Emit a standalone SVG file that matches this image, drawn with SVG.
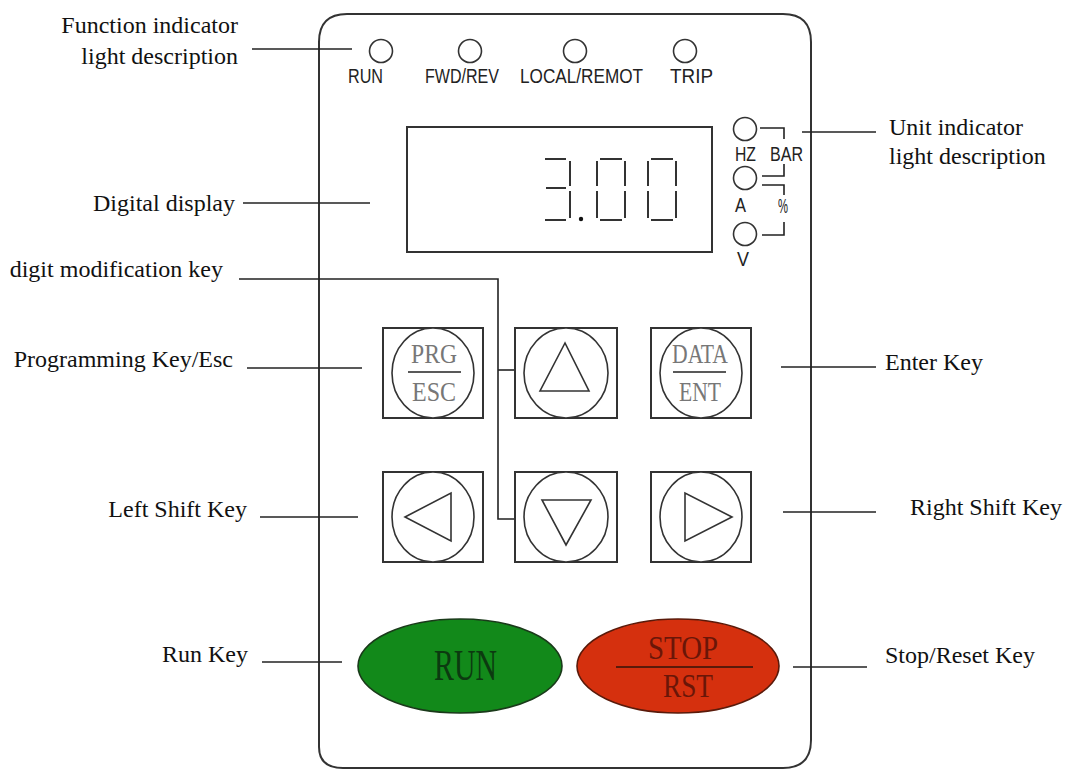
<svg xmlns="http://www.w3.org/2000/svg" width="1067" height="769" viewBox="0 0 1067 769">
<style>
.frame{fill:none;stroke:#333;stroke-width:2}
.box{fill:none;stroke:#333;stroke-width:2}
.key{fill:#fff;stroke:#333;stroke-width:1.6}
.ln{fill:none;stroke:#222;stroke-width:1.6}
.seg{fill:none;stroke:#333;stroke-width:2}
.lbl{font-family:"Liberation Serif","Times New Roman",serif;font-size:24px;fill:#111}
.led{font-family:"Liberation Sans",Arial,sans-serif;font-size:20px;fill:#222}
.kt{font-family:"Liberation Serif","Times New Roman",serif;font-size:27px;fill:#777;text-anchor:middle}
.led-c{fill:#fff;stroke:#333;stroke-width:1.6}
</style>
<rect width="1067" height="769" fill="#fff"/>
<g id="panel">
<path class="frame" d="M347 14 H783 Q811 14 811 42 V740 Q811 768 783 768 H343 Q319 768 319 747 V42 Q319 14 347 14 Z"/>
</g>
<g id="connectors">
<line class="ln" x1="252" y1="49" x2="352" y2="49"/>
<line class="ln" x1="243" y1="203" x2="370" y2="203"/>
<polyline class="ln" points="239,279 498,279 498,519 515,519"/>
<line class="ln" x1="498" y1="370" x2="515" y2="370"/>
<line class="ln" x1="247" y1="368" x2="362" y2="368"/>
<line class="ln" x1="260" y1="517" x2="358" y2="517"/>
<line class="ln" x1="262" y1="662" x2="342" y2="662"/>
<line class="ln" x1="802" y1="132" x2="876" y2="132"/>
<line class="ln" x1="781" y1="367" x2="876" y2="367"/>
<line class="ln" x1="783" y1="512" x2="876" y2="512"/>
<line class="ln" x1="793" y1="667" x2="867" y2="667"/>
</g>
<g id="labels">
<text class="lbl" x="238" y="33" text-anchor="end">Function indicator</text>
<text class="lbl" x="238" y="64" text-anchor="end">light description</text>
<text class="lbl" x="235" y="211" text-anchor="end">Digital display</text>
<text class="lbl" x="223" y="277" text-anchor="end">digit modification key</text>
<text class="lbl" x="233" y="367" text-anchor="end">Programming Key/Esc</text>
<text class="lbl" x="247" y="517" text-anchor="end">Left Shift Key</text>
<text class="lbl" x="248" y="662" text-anchor="end">Run Key</text>
<text class="lbl" x="889" y="135">Unit indicator</text>
<text class="lbl" x="889" y="164">light description</text>
<text class="lbl" x="885" y="370">Enter Key</text>
<text class="lbl" x="910" y="515">Right Shift Key</text>
<text class="lbl" x="885" y="663">Stop/Reset Key</text>
</g>
<g id="function-leds">
<circle class="led-c" cx="381" cy="51" r="11.5"/>
<circle class="led-c" cx="470" cy="51" r="11.5"/>
<circle class="led-c" cx="575" cy="51" r="11.5"/>
<circle class="led-c" cx="685" cy="51" r="11.5"/>
<text class="led" x="348" y="83" textLength="35" lengthAdjust="spacingAndGlyphs">RUN</text>
<text class="led" x="425" y="83" textLength="74" lengthAdjust="spacingAndGlyphs">FWD/REV</text>
<text class="led" x="520" y="83" textLength="123" lengthAdjust="spacingAndGlyphs">LOCAL/REMOT</text>
<text class="led" x="670" y="83" textLength="43" lengthAdjust="spacingAndGlyphs">TRIP</text>
</g>
<g id="display">
<rect class="box" x="407" y="127" width="305" height="125"/>
<g class="seg">
<path d="M545 159 H566 M546 188 H566 M545 220 H566 M570 161 V186 M570 191 V218"/>
<path d="M600 159 H622 M600 220 H622 M597 161 V186 M597 191 V218 M625 161 V186 M625 191 V218"/>
<path d="M651 159 H673 M651 220 H673 M648 161 V186 M648 191 V218 M676 161 V186 M676 191 V218"/>
</g>
<circle cx="581" cy="219" r="2.2" fill="#111"/>
</g>
<g id="unit-leds">
<circle class="led-c" cx="745" cy="129" r="11.5"/>
<circle class="led-c" cx="745" cy="178" r="11.5"/>
<circle class="led-c" cx="745" cy="234" r="11.5"/>
<polyline class="ln" points="760,128 784,128 784,139"/>
<polyline class="ln" points="784,164 784,176 762,176"/>
<polyline class="ln" points="762,185 784,185 784,195"/>
<polyline class="ln" points="784,222 784,235 762,235"/>
<text class="led" x="735" y="161" textLength="21" lengthAdjust="spacingAndGlyphs">HZ</text>
<text class="led" x="770" y="161" textLength="33" lengthAdjust="spacingAndGlyphs">BAR</text>
<text class="led" x="735" y="212" textLength="11" lengthAdjust="spacingAndGlyphs">A</text>
<text class="led" x="778" y="213" textLength="10" lengthAdjust="spacingAndGlyphs">%</text>
<text class="led" x="737" y="266" textLength="12" lengthAdjust="spacingAndGlyphs">V</text>
</g>
<g id="key-prg">
<rect class="box" x="383" y="328" width="100" height="90"/>
<ellipse class="key" cx="433" cy="373" rx="41" ry="45"/>
<text class="kt" x="434" y="363" textLength="46" lengthAdjust="spacingAndGlyphs">PRG</text>
<line class="ln" x1="408" y1="372" x2="461" y2="372" stroke="#444"/>
<text class="kt" x="434" y="401" textLength="44" lengthAdjust="spacingAndGlyphs">ESC</text>
</g>
<g id="key-up">
<rect class="box" x="515" y="328" width="102" height="90"/>
<ellipse class="key" cx="566" cy="373" rx="42" ry="45"/>
<polygon class="key" points="565,343 540,391 589,391"/>
</g>
<g id="key-data">
<rect class="box" x="651" y="328" width="100" height="90"/>
<ellipse class="key" cx="701" cy="373" rx="41" ry="45"/>
<text class="kt" x="700" y="363" textLength="56" lengthAdjust="spacingAndGlyphs">DATA</text>
<line class="ln" x1="673" y1="372" x2="726" y2="372" stroke="#444"/>
<text class="kt" x="700" y="401" textLength="42" lengthAdjust="spacingAndGlyphs">ENT</text>
</g>
<g id="key-left">
<rect class="box" x="383" y="472" width="100" height="90"/>
<ellipse class="key" cx="433" cy="517" rx="41" ry="45"/>
<polygon class="key" points="405,517 451,493 451,541"/>
</g>
<g id="key-down">
<rect class="box" x="515" y="472" width="102" height="90"/>
<ellipse class="key" cx="566" cy="517" rx="42" ry="45"/>
<polygon class="key" points="542,500 591,500 566,545"/>
</g>
<g id="key-right">
<rect class="box" x="651" y="472" width="100" height="90"/>
<ellipse class="key" cx="701" cy="517" rx="41" ry="45"/>
<polygon class="key" points="732,517 685,493 685,541"/>
</g>
<g id="key-run">
<ellipse cx="460" cy="666" rx="102" ry="47" fill="#12891a" stroke="#1a3a1a" stroke-width="1.6"/>
<text x="434" y="680" font-family="'Liberation Serif','Times New Roman',serif" font-size="44" fill="#0c3a10" textLength="63" lengthAdjust="spacingAndGlyphs">RUN</text>
</g>
<g id="key-stop">
<ellipse cx="678" cy="666" rx="101" ry="47" fill="#d5300e" stroke="#5a1a0a" stroke-width="1.6"/>
<text x="648" y="659" font-family="'Liberation Serif','Times New Roman',serif" font-size="34" fill="#6a1608" textLength="70" lengthAdjust="spacingAndGlyphs">STOP</text>
<line x1="616" y1="667" x2="753" y2="667" stroke="#5a1a0a" stroke-width="1.8"/>
<text x="663" y="697" font-family="'Liberation Serif','Times New Roman',serif" font-size="34" fill="#6a1608" textLength="50" lengthAdjust="spacingAndGlyphs">RST</text>
</g>
</svg>
